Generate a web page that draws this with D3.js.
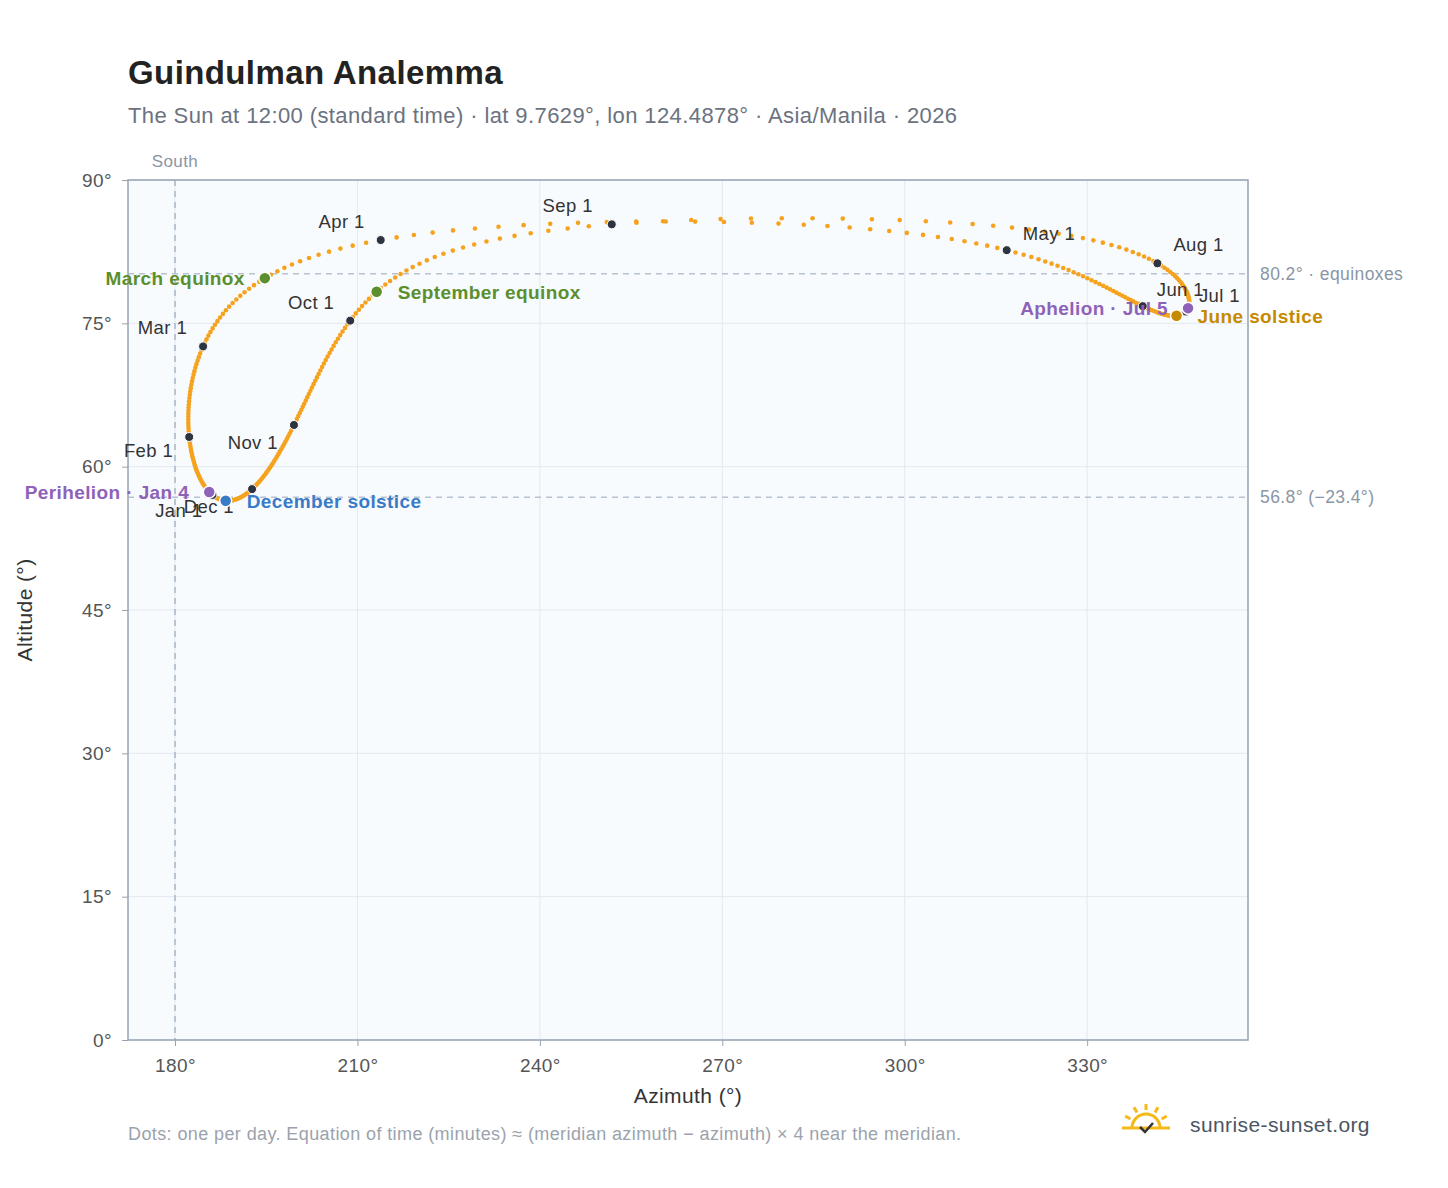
<!DOCTYPE html>
<html><head><meta charset="utf-8">
<script src="https://cdn.jsdelivr.net/npm/d3@7"></script>
<style>body{margin:0;background:#fff;font-family:"Liberation Sans",Arial,sans-serif}text{letter-spacing:0.4px}</style>
</head><body><svg id="c" width="1448" height="1188"></svg>
<script>
const lat = 9.7629, lon = 124.4878, tzHours = 8, year = 2026;
const xTicks = [180, 210, 240, 270, 300, 330];
const yTicks = [0, 15, 30, 45, 60, 75, 90];
const monthNames = ["Jan","Feb","Mar","Apr","May","Jun","Jul","Aug","Sep","Oct","Nov","Dec"];
const events = [
  {name:"March equinox", date:[2,20], color:"#5b8f2e", side:"left"},
  {name:"September equinox", date:[8,23], color:"#5b8f2e", side:"right"},
  {name:"June solstice", date:[5,21], color:"#c58a00", side:"right"},
  {name:"December solstice", date:[11,21], color:"#3a7bc8", side:"right"},
  {name:"Perihelion · Jan 4", date:[0,4], color:"#8e62b8", side:"left"},
  {name:"Aphelion · Jul 5", date:[6,5], color:"#8e62b8", side:"left"}
];
const refLines = [{v:80.2, label:"80.2° · equinoxes"},{v:56.8, label:"56.8° (−23.4°)"}];

const rad = Math.PI/180;
function sunPos(date){
  const jd = date.getTime()/86400000 + 2440587.5;
  const T = (jd-2451545)/36525;
  const L0 = (280.46646 + T*(36000.76983+T*0.0003032))%360;
  const M = 357.52911 + T*(35999.05029-0.0001537*T);
  const e = 0.016708634 - T*(0.000042037+0.0000001267*T);
  const C = Math.sin(M*rad)*(1.914602-T*(0.004817+0.000014*T)) + Math.sin(2*M*rad)*(0.019993-0.000101*T) + Math.sin(3*M*rad)*0.000289;
  const om = 125.04-1934.136*T;
  const lam = L0 + C - 0.00569 - 0.00478*Math.sin(om*rad);
  const eps0 = 23 + (26 + (21.448 - T*(46.815+T*(0.00059-T*0.001813)))/60)/60;
  const eps = eps0 + 0.00256*Math.cos(om*rad);
  const dec = Math.asin(Math.sin(eps*rad)*Math.sin(lam*rad))/rad;
  const y = Math.tan(eps*rad/2)**2;
  const eot = 4/rad*(y*Math.sin(2*L0*rad) - 2*e*Math.sin(M*rad) + 4*e*y*Math.sin(M*rad)*Math.cos(2*L0*rad) - 0.5*y*y*Math.sin(4*L0*rad) - 1.25*e*e*Math.sin(2*M*rad));
  const utcMin = date.getUTCHours()*60 + date.getUTCMinutes();
  const tst = utcMin + eot + 4*lon;
  const H = tst/4 - 180;
  const cz = Math.sin(lat*rad)*Math.sin(dec*rad)+Math.cos(lat*rad)*Math.cos(dec*rad)*Math.cos(H*rad);
  const alt = 90 - Math.acos(cz)/rad;
  let az = Math.atan2(Math.sin(H*rad), Math.cos(H*rad)*Math.sin(lat*rad) - Math.tan(dec*rad)*Math.cos(lat*rad))/rad + 180;
  az = (az+360)%360;
  return {az, alt};
}
const days = [];
for(let d=0; d<365; d++){
  const dt = new Date(Date.UTC(year,0,1+d,12-tzHours,0));
  const p = sunPos(dt); p.m = dt.getUTCMonth(); p.day = dt.getUTCDate(); days.push(p);
}
const find = (m,dd)=>days.find(p=>p.m===m&&p.day===dd);

const svg = d3.select("#c");
const L=128,R=1248,T=180,B=1040;
const x = d3.scaleLinear().domain([172.27,356.45]).range([L,R]);
const y = d3.scaleLinear().domain([0,90]).range([B,T]);

svg.append("rect").attr("x",L).attr("y",T).attr("width",R-L).attr("height",B-T).attr("fill","#f8fbfe");
const g = svg.append("g");
xTicks.forEach(v=>g.append("line").attr("x1",x(v)).attr("x2",x(v)).attr("y1",T).attr("y2",B).attr("stroke","#e3e8ef"));
yTicks.forEach(v=>g.append("line").attr("x1",L).attr("x2",R).attr("y1",y(v)).attr("y2",y(v)).attr("stroke","#e3e8ef"));
svg.append("line").attr("x1",x(180)).attr("x2",x(180)).attr("y1",T).attr("y2",B).attr("stroke","#a9b6c6").attr("stroke-width",1.5).attr("stroke-dasharray","6,5");
svg.append("text").attr("x",x(180)).attr("y",167).attr("text-anchor","middle").attr("fill","#8a96a5").attr("font-size",17).text("South");
refLines.forEach(r=>{
  svg.append("line").attr("x1",L).attr("x2",R).attr("y1",y(r.v)).attr("y2",y(r.v)).attr("stroke","#b8c2d0").attr("stroke-width",1.5).attr("stroke-dasharray","6,5");
  svg.append("text").attr("x",1260).attr("y",y(r.v)+6).attr("fill","#8a96a5").attr("font-size",17.5).text(r.label);
});
svg.append("rect").attr("x",L).attr("y",T).attr("width",R-L).attr("height",B-T).attr("fill","none").attr("stroke","#97a3b3").attr("stroke-width",1.5);

const xa = svg.append("g").attr("transform",`translate(0,${B})`).call(d3.axisBottom(x).tickValues(xTicks).tickFormat(d=>d+"°").tickSize(6));
const ya = svg.append("g").attr("transform",`translate(${L},0)`).call(d3.axisLeft(y).tickValues(yTicks).tickFormat(d=>d+"°").tickSize(6));
[xa,ya].forEach(a=>{a.select(".domain").remove();a.selectAll("line").attr("stroke","#97a3b3");a.selectAll("text").attr("fill","#555").attr("font-size",19).attr("font-family","Liberation Sans, Arial");});
xa.selectAll("text").attr("dy","1.2em");
ya.selectAll("text").attr("x",-16);
svg.append("text").attr("x",688).attr("y",1103).attr("text-anchor","middle").attr("font-size",21).attr("fill","#333").text("Azimuth (°)");
svg.append("text").attr("transform","translate(32,610) rotate(-90)").attr("text-anchor","middle").attr("font-size",21).attr("fill","#333").text("Altitude (°)");

svg.append("g").selectAll("circle").data(days).join("circle").attr("cx",d=>x(d.az)).attr("cy",d=>y(d.alt)).attr("r",2.3).attr("fill","#f5a31e");

const lblOff = {0:[-10,22,"end"],1:[-16,20,"end"],2:[-16,-12,"end"],3:[-16,-12,"end"],4:[16,-10,"start"],5:[14,-10,"start"],6:[13,-10,"start"],7:[16,-12,"start"],8:[-44,-12,"middle"],9:[-16,-12,"end"],10:[-16,24,"end"],11:[-18,24,"end"]};
monthNames.forEach((mn,i)=>{
  const p = find(i,1); const o = lblOff[i];
  svg.append("circle").attr("cx",x(p.az)).attr("cy",y(p.alt)).attr("r",4.5).attr("fill","#2d3440").attr("stroke","#fff").attr("stroke-width",1);
  svg.append("text").attr("x",x(p.az)+o[0]).attr("y",y(p.alt)+o[1]).attr("text-anchor",o[2]).attr("font-size",18.5).attr("fill","#333").text(mn+" 1");
});
events.forEach(ev=>{
  const p = find(ev.date[0],ev.date[1]);
  svg.append("circle").attr("cx",x(p.az)).attr("cy",y(p.alt)).attr("r",6).attr("fill",ev.color).attr("stroke","#fff").attr("stroke-width",1.5);
  svg.append("text").attr("x",x(p.az)+(ev.side==="left"?-20:21)).attr("y",y(p.alt)+7).attr("text-anchor",ev.side==="left"?"end":"start")
    .attr("font-size",19).attr("font-weight","bold").attr("fill",ev.color).text(ev.name);
});

svg.append("text").attr("x",128).attr("y",84).attr("font-size",33).attr("font-weight","bold").attr("fill","#222").text("Guindulman Analemma");
svg.append("text").attr("x",128).attr("y",123).attr("font-size",22).attr("fill","#6b7280").text("The Sun at 12:00 (standard time) · lat 9.7629°, lon 124.4878° · Asia/Manila · 2026");
svg.append("text").attr("x",128).attr("y",1140).attr("font-size",18).attr("fill","#9aa3ad").text("Dots: one per day. Equation of time (minutes) ≈ (meridian azimuth − azimuth) × 4 near the meridian.");
const lg = svg.append("g").attr("transform","translate(1146,1128)");
lg.append("path").attr("d","M-14,0 A14,14 0 0 1 14,0").attr("fill","none").attr("stroke","#f5b919").attr("stroke-width",3);
[-60,-30,0,30,60].forEach(a=>{const r1=18,r2=24,t=(a-90)*rad;lg.append("line").attr("x1",r1*Math.cos(t)).attr("y1",r1*Math.sin(t)).attr("x2",r2*Math.cos(t)).attr("y2",r2*Math.sin(t)).attr("stroke","#f5b919").attr("stroke-width",3);});
lg.append("line").attr("x1",-24).attr("x2",24).attr("y1",0).attr("y2",0).attr("stroke","#f5b919").attr("stroke-width",3);
lg.append("path").attr("d","M-6,-1 L-1,4 L7,-5").attr("fill","none").attr("stroke","#333").attr("stroke-width",2.5);
svg.append("text").attr("x",1190).attr("y",1132).attr("font-size",21).attr("fill","#4b5563").text("sunrise-sunset.org");
</script></body></html>
